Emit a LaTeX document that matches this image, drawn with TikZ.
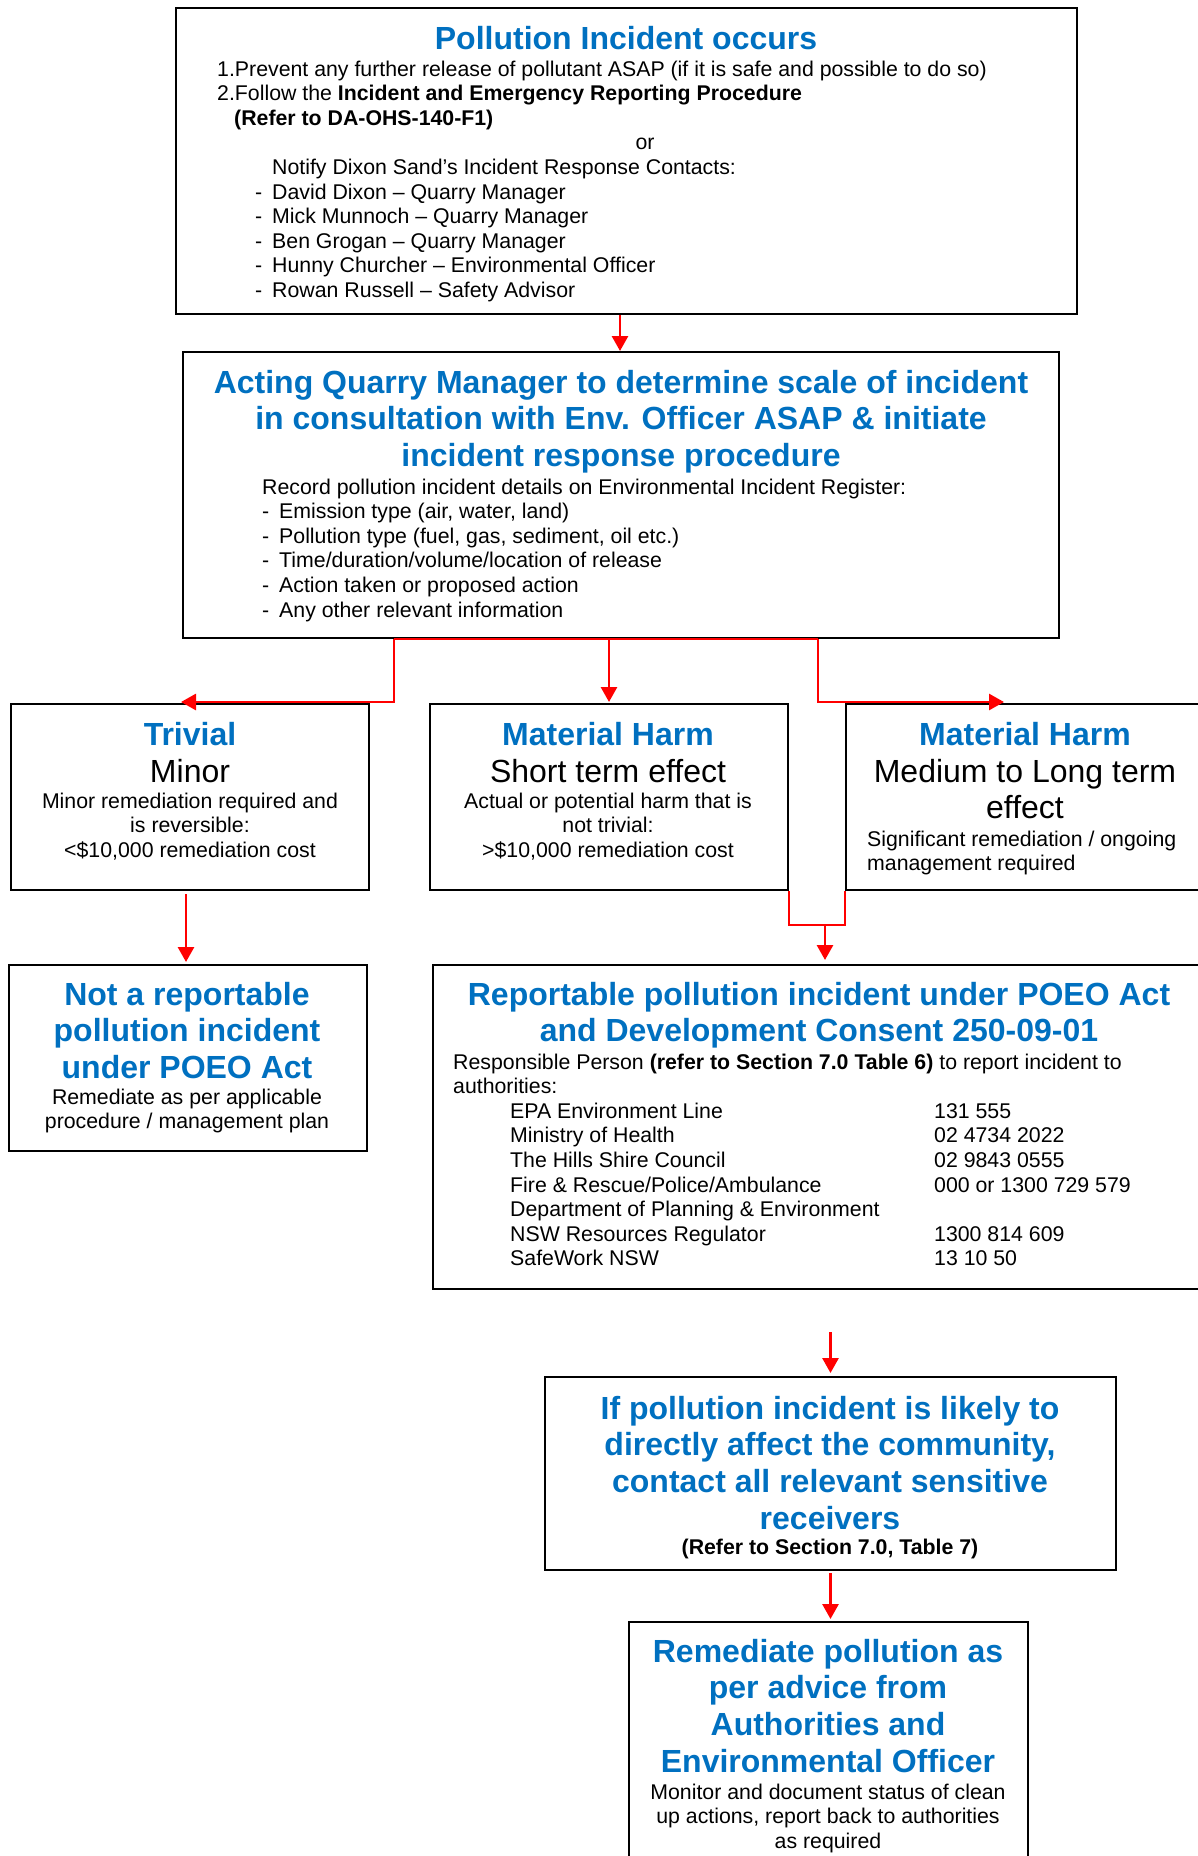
\documentclass[tikz,border=0pt]{standalone}
\usepackage{fontspec}
\setmainfont{Liberation Sans}
\usetikzlibrary{arrows.meta}
\definecolor{hblue}{HTML}{0070C0}
\definecolor{ared}{HTML}{FF0000}
\tikzset{
  box/.style={draw=black, line width=2pt, rectangle, inner sep=0pt},
  hd/.style={font=\fontsize{32}{36.7}\selectfont\bfseries, text=hblue, inner sep=0pt, anchor=base},
  big/.style={font=\fontsize{32}{36.7}\selectfont, inner sep=0pt, anchor=base},
  bd/.style={font=\fontsize{21.3}{24.6}\selectfont, inner sep=0pt, anchor=base},
  bdl/.style={bd, anchor=base west},
  wire/.style={draw=ared, line width=2.8pt},
  arr/.style={wire, -{Triangle[length=15pt,width=16pt]}},
}
\begin{document}
\begin{tikzpicture}[x=1pt,y=-1pt]
\useasboundingbox (0,0) rectangle (1198,1856);
\clip (0,0) rectangle (1198,1856);
% ---------- boxes ----------
\node[box, minimum width=901pt, minimum height=306pt] (b1) at (626.5,161) {};
\node[box, minimum width=876pt, minimum height=286pt] (b2) at (621,495) {};
\node[box, minimum width=358pt, minimum height=186pt] (bT) at (190,797) {};
\node[box, minimum width=358pt, minimum height=186pt] (bS) at (609,797) {};
\node[box, minimum width=358pt, minimum height=186pt] (bL) at (1025,797) {};
\node[box, minimum width=358pt, minimum height=186pt] (bN) at (188,1058) {};
\node[box, minimum width=772pt, minimum height=324pt] (bR) at (819,1127) {};
\node[box, minimum width=571pt, minimum height=193pt] (bC) at (830.5,1473.5) {};
\node[box, minimum width=399pt, minimum height=258pt] (bM) at (828.5,1751) {};
% ---------- box 1 ----------
\node[hd] (t1) at (626,49) {Pollution Incident occurs};
\node[bdl] (t1a) at (217,76) {1.Prevent any further release of pollutant ASAP (if it is safe and possible to do so)};
\node[bdl] (t1b) at (217,100.6) {2.Follow the \textbf{Incident and Emergency Reporting Procedure}};
\node[bdl] (t1c) at (234,125.2) {\textbf{(Refer to DA-OHS-140-F1)}};
\node[bd] (t1d) at (645,149.8) {or};
\node[bdl] (t1e) at (272,174.4) {Notify Dixon Sand’s Incident Response Contacts:};
\node[bdl] (t1f) at (255,199) {\makebox[17pt][l]{-}David Dixon – Quarry Manager};
\node[bdl] (t1g) at (255,223.6) {\makebox[17pt][l]{-}Mick Munnoch – Quarry Manager};
\node[bdl] (t1h) at (255,248.2) {\makebox[17pt][l]{-}Ben Grogan – Quarry Manager};
\node[bdl] (t1i) at (255,272.8) {\makebox[17pt][l]{-}Hunny Churcher – Environmental Officer};
\node[bdl] (t1j) at (255,297.4) {\makebox[17pt][l]{-}Rowan Russell – Safety Advisor};
% ---------- box 2 ----------
\node[hd] (t2a) at (621,393) {Acting Quarry Manager to determine scale of incident};
\node[hd] (t2b) at (621,429.7) {in consultation with Env. Officer ASAP \& initiate};
\node[hd] (t2c) at (621,466.4) {incident response procedure};
\node[bdl] (t2d) at (262,494) {Record pollution incident details on Environmental Incident Register:};
\node[bdl] (t2e) at (262,518.6) {\makebox[17pt][l]{-}Emission type (air, water, land)};
\node[bdl] (t2f) at (262,543.2) {\makebox[17pt][l]{-}Pollution type (fuel, gas, sediment, oil etc.)};
\node[bdl] (t2g) at (262,567.8) {\makebox[17pt][l]{-}Time/duration/volume/location of release};
\node[bdl] (t2h) at (262,592.4) {\makebox[17pt][l]{-}Action taken or proposed action};
\node[bdl] (t2i) at (262,617) {\makebox[17pt][l]{-}Any other relevant information};
% ---------- trivial ----------
\node[hd] (tTa) at (190,745) {Trivial};
\node[big] (tTb) at (190,782) {Minor};
\node[bd] (tTc) at (190,808) {Minor remediation required and};
\node[bd] (tTd) at (190,832.6) {is reversible:};
\node[bd] (tTe) at (190,857.2) {<\$10,000 remediation cost};
% ---------- material harm short ----------
\node[hd] (tSa) at (608,745) {Material Harm};
\node[big] (tSb) at (608,782) {Short term effect};
\node[bd] (tSc) at (608,808) {Actual or potential harm that is};
\node[bd] (tSd) at (608,832.6) {not trivial:};
\node[bd] (tSe) at (608,857.2) {>\$10,000 remediation cost};
% ---------- material harm long ----------
\node[hd] (tLa) at (1025,745) {Material Harm};
\node[big] (tLb) at (1025,782) {Medium to Long term};
\node[big] (tLc) at (1025,818.7) {effect};
\node[bdl] (tLd) at (867,846) {Significant remediation / ongoing};
\node[bdl] (tLe) at (867,870.6) {management required};
% ---------- not reportable ----------
\node[hd] (tNa) at (187,1005) {Not a reportable};
\node[hd] (tNb) at (187,1041.7) {pollution incident};
\node[hd] (tNc) at (187,1078.4) {under POEO Act};
\node[bd] (tNd) at (187,1104) {Remediate as per applicable};
\node[bd] (tNe) at (187,1128.6) {procedure / management plan};
% ---------- reportable ----------
\node[hd] (tRa) at (819,1005) {Reportable pollution incident under POEO Act};
\node[hd] (tRb) at (819,1041.7) {and Development Consent 250-09-01};
\node[bdl] (tRc) at (453,1069) {Responsible Person \textbf{(refer to Section 7.0 Table 6)} to report incident to};
\node[bdl] (tRd) at (453,1093.6) {authorities:};
\node[bdl] (tRe) at (510,1118.2) {\makebox[424pt][l]{EPA Environment Line}131 555};
\node[bdl] (tRf) at (510,1142.8) {\makebox[424pt][l]{Ministry of Health}02 4734 2022};
\node[bdl] (tRg) at (510,1167.4) {\makebox[424pt][l]{The Hills Shire Council}02 9843 0555};
\node[bdl] (tRh) at (510,1192) {\makebox[424pt][l]{Fire \& Rescue/Police/Ambulance}000 or 1300 729 579};
\node[bdl] (tRi) at (510,1216.6) {Department of Planning \& Environment};
\node[bdl] (tRj) at (510,1241.2) {\makebox[424pt][l]{NSW Resources Regulator}1300 814 609};
\node[bdl] (tRk) at (510,1265.8) {\makebox[424pt][l]{SafeWork NSW}13 10 50};
% ---------- community ----------
\node[hd] (tCa) at (830,1419) {If pollution incident is likely to};
\node[hd] (tCb) at (830,1455.7) {directly affect the community,};
\node[hd] (tCc) at (830,1492.4) {contact all relevant sensitive};
\node[hd] (tCd) at (830,1529.1) {receivers};
\node[bd] (tCe) at (830,1554) {\textbf{(Refer to Section 7.0, Table 7)}};
% ---------- remediate ----------
\node[hd] (tMa) at (828,1662) {Remediate pollution as};
\node[hd] (tMb) at (828,1698.7) {per advice from};
\node[hd] (tMc) at (828,1735.4) {Authorities and};
\node[hd] (tMd) at (828,1772.1) {Environmental Officer};
\node[bd] (tMe) at (828,1799) {Monitor and document status of clean};
\node[bd] (tMf) at (828,1823.6) {up actions, report back to authorities};
\node[bd] (tMg) at (828,1848.2) {as required};
% ---------- connectors ----------
\coordinate (jL) at (394,702);
\coordinate (jR) at (818,702);
\coordinate (jB) at (825,925);
\draw[arr] ([xshift=-6.5pt]b1.south) -- ([xshift=-1pt]b2.north);
\draw[wire] (b2.south -| jL) -- (b2.south -| jR);
\draw[arr] (b2.south -| jL) -- (jL) -- (181,702);
\draw[arr] (b2.south -| bS.north) -- ([yshift=1pt]bS.north);
\draw[arr] (b2.south -| jR) -- (jR) -- (1004,702);
\draw[wire] (bS.south east) -- (bS.south east |- jB) -- (bL.south west |- jB) -- (bL.south west);
\draw[arr] (jB) -- ([yshift=4pt]bR.north -| jB);
\draw[arr] ([shift={(-4pt,-3pt)}]bT.south) -- ([shift={(-2pt,2pt)}]bN.north);
\draw[arr] ([yshift=-42pt]bR.south -| bC.north) -- ([yshift=3pt]bC.north);
\draw[arr] ([yshift=-2pt]bC.south) -- ([yshift=2pt]bM.north -| bC.south);
\end{tikzpicture}
\end{document}
